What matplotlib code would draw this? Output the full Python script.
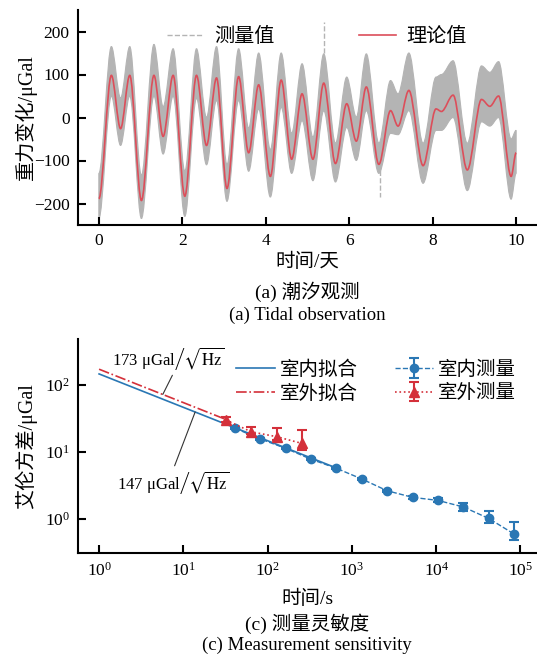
import matplotlib
matplotlib.use("Agg")
import matplotlib.pyplot as plt
from matplotlib.path import Path
from matplotlib.patches import PathPatch
from matplotlib.lines import Line2D

plt.rcParams['font.family'] = ['Liberation Serif', 'Noto Sans CJK SC']
plt.rcParams['mathtext.fontset'] = 'stix'

# ------------------------------------------------------------------
# (a) tidal observation: turning points (day, μGal)
# ------------------------------------------------------------------
tide_t = [0.00, 0.30, 0.52, 0.74, 1.02, 1.32, 1.54, 1.78, 2.06, 2.34,
          2.58, 2.82, 3.07, 3.35, 3.59, 3.83, 4.11, 4.37, 4.62, 4.87,
          5.13, 5.39, 5.67, 5.94, 6.17, 6.41, 6.71, 6.99, 7.17, 7.43,
          7.77, 8.08, 8.21, 8.49, 8.83, 9.17, 9.37, 9.58, 9.88, 10.00]
tide_theory = [-189, 98, -26, 98, -193, 98, -44, 98, -183, 98,
               -65, 92, -165, 95, -82, 76, -137, 87, -97, 55,
               -97, 80, -107, 32, -55, 71, -109, 16, -20, 63,
               -112, 20, 14, 52, -122, 42, 26, 50, -137, -82]
# upper / lower edge of the measured (noisy) record at the same times
meas_hi = [-130, 165, 45, 165, -135, 170, 25, 160, -125, 160,
           0, 165, -110, 160, -25, 150, -75, 150, -37, 125,
           -46, 148, -60, 94, 1, 148, -60, 86, 55, 150,
           -60, 94, 100, 132, -60, 120, 105, 130, -50, -30]
meas_lo = [-235, 50, -65, 50, -235, 50, -85, 50, -230, 45,
           -110, 40, -195, 40, -125, 20, -185, 24, -130, -7,
           -147, 16, -150, -23, -100, 16, -130, -37, -40, 16,
           -153, -30, -30, 0, -170, -10, -20, 0, -190, -130]
# isolated outliers (dashed spikes)
spike_t = [5.39, 6.73]
spike_lo = [150, -105]
spike_hi = [222, -185]

# ------------------------------------------------------------------
# (c) Allan deviation
# ------------------------------------------------------------------
tau_in = [41, 82, 164, 328, 656, 1312, 2624, 5248, 10496, 20992, 41984, 83968]
adev_in = [22.6, 15.6, 11.3, 7.76, 5.68, 3.93, 2.62, 2.09, 1.88, 1.50, 1.01, 0.59]
err_in_lo = [0.8, 0.5, 0.35, 0.25, 0.2, 0.15, 0.1, 0.1, 0.13, 0.19, 0.14, 0.11]
err_in_hi = [0.8, 0.5, 0.35, 0.25, 0.2, 0.15, 0.1, 0.1, 0.13, 0.20, 0.31, 0.31]
tau_out = [32, 64, 128, 256]
adev_out = [30, 20, 16.9, 13.4]
err_out_lo = [2.0, 1.4, 1.8, 2.7]
err_out_hi = [3.6, 3.4, 5.7, 7.9]
fit_in_tau = [1, 656]
fit_in_sigma = [147, 5.74]
fit_out_tau = [1, 32]
fit_out_sigma = [173, 30.6]

blue = '#2a77b4'
red = '#d4303a'
tide_red = '#dc4e5a'
gray = '#b4b4b4'


def bezier_segments(t, v, start_code=Path.MOVETO):
    # smooth curve through turning points, flat tangent at each one
    verts = [(t[0], v[0])]
    codes = [start_code]
    for i in range(1, len(t)):
        d = (t[i] - t[i - 1]) / 3.0
        verts += [(t[i - 1] + d, v[i - 1]), (t[i] - d, v[i]), (t[i], v[i])]
        codes += [Path.CURVE4] * 3
    return verts, codes


fig = plt.figure(figsize=(5.37, 6.56), dpi=100)
ax1 = fig.add_axes([78 / 537, 1 - 225 / 656, 459 / 537, 215 / 656])
ax2 = fig.add_axes([78 / 537, 1 - 553 / 656, 459 / 537, 214 / 656])

# ---------------- top panel ----------------
v_up, c_up = bezier_segments(tide_t, meas_hi)
v_dn, c_dn = bezier_segments(tide_t[::-1], meas_lo[::-1], start_code=Path.LINETO)
band = Path(v_up + v_dn + [v_up[0]], c_up + c_dn + [Path.CLOSEPOLY])
ax1.add_patch(PathPatch(band, facecolor=gray, edgecolor=gray, lw=0.8, zorder=1))
ax1.vlines(spike_t, spike_lo, spike_hi, colors=gray, linestyles='--', lw=1, zorder=1)

v_th, c_th = bezier_segments(tide_t, tide_theory)
ax1.add_patch(PathPatch(Path(v_th, c_th), facecolor='none', edgecolor=tide_red,
                        lw=1.2, zorder=2))

ax1.set_xlim(-0.5, 10.5)
ax1.set_ylim(-250, 250)
ax1.set_xticks([0, 2, 4, 6, 8, 10])
ax1.set_yticks([-200, -100, 0, 100, 200])
ax1.set_xlabel('时间/天', fontsize=14)
ax1.set_ylabel('重力变化/μGal', fontsize=14.5)
ax1.xaxis.set_label_coords(0.5, -0.13)
ax1.yaxis.set_label_coords(-0.09, 0.5)

handles = [Line2D([], [], color=gray, ls='--', lw=1, label='测量值'),
           Line2D([], [], color=tide_red, lw=1.2, label='理论值')]
ax1.legend(handles=handles, ncol=2, loc='upper left', bbox_to_anchor=(0.194, 0.915),
           frameon=False, fontsize=14.5, handlelength=1.8, handletextpad=0.55,
           columnspacing=4.2, borderaxespad=0, borderpad=0)

# ---------------- bottom panel ----------------
ax2.plot(fit_in_tau, fit_in_sigma, '-', color=blue, lw=1.2, label='室内拟合')
ax2.plot(fit_out_tau, fit_out_sigma, '-.', color=red, lw=1.2, label='室外拟合')
ax2.errorbar(tau_in, adev_in, yerr=[err_in_lo, err_in_hi], fmt='o--', color=blue,
             ms=6, lw=1, elinewidth=1.5, capsize=3.5, capthick=1.5, label='室内测量')
ax2.errorbar(tau_out, adev_out, yerr=[err_out_lo, err_out_hi], fmt='^:', color=red,
             ms=6.5, lw=1.2, elinewidth=1.5, capsize=3.5, capthick=1.5, label='室外测量')
ax2.set_xscale('log')
ax2.set_yscale('log')
ax2.set_xlim(10 ** -0.25, 1.57e5)
ax2.set_ylim(0.307, 490)
ax2.set_xticks([1, 10, 100, 1e3, 1e4, 1e5])
ax2.set_yticks([1, 10, 100])
ax2.minorticks_off()
ax2.set_xlabel('时间/s', fontsize=14)
ax2.set_ylabel('艾伦方差/μGal', fontsize=14.5)
ax2.xaxis.set_label_coords(0.5, -0.17)
ax2.yaxis.set_label_coords(-0.09, 0.5)

ax2.annotate(r'173 μGal$\left/\sqrt{\mathrm{Hz}}\right.$', xy=(5.7, 173 / 5.7 ** 0.5),
             xytext=(6.6, 246), ha='center', va='center', fontsize=12,
             arrowprops=dict(arrowstyle='-', lw=0.8, color='#333333',
                             relpos=(0.55, 0.0), shrinkA=0, shrinkB=0))
ax2.annotate(r'147 μGal$\left/\sqrt{\mathrm{Hz}}\right.$', xy=(13.8, 147 / 13.8 ** 0.5),
             xytext=(7.65, 3.54), ha='center', va='center', fontsize=12,
             arrowprops=dict(arrowstyle='-', lw=0.8, color='#333333',
                             relpos=(0.5, 1.0), shrinkA=0, shrinkB=0))

ax2.legend(ncol=2, loc='upper left', bbox_to_anchor=(0.344, 0.9), frameon=False,
           fontsize=14, handlelength=2.0, handletextpad=0.25, columnspacing=1.9,
           borderaxespad=0, borderpad=0, labelspacing=0.28)

for ax in (ax1, ax2):
    for side in ('top', 'right'):
        ax.spines[side].set_visible(False)
    for side in ('left', 'bottom'):
        ax.spines[side].set_linewidth(1.5)
    ax.tick_params(direction='in', length=6, width=1.5, labelsize=12.5, pad=6)

fig.text(0.572, 1 - 292 / 656, '(a) 潮汐观测', ha='center', va='center', fontsize=14)
fig.text(0.572, 1 - 315 / 656, '(a) Tidal observation', ha='center', va='center', fontsize=13.5)
fig.text(0.572, 1 - 624 / 656, '(c) 测量灵敏度', ha='center', va='center', fontsize=14)
fig.text(0.572, 1 - 645 / 656, '(c) Measurement sensitivity', ha='center', va='center', fontsize=13.5)

fig.savefig('out.png', dpi=100)
